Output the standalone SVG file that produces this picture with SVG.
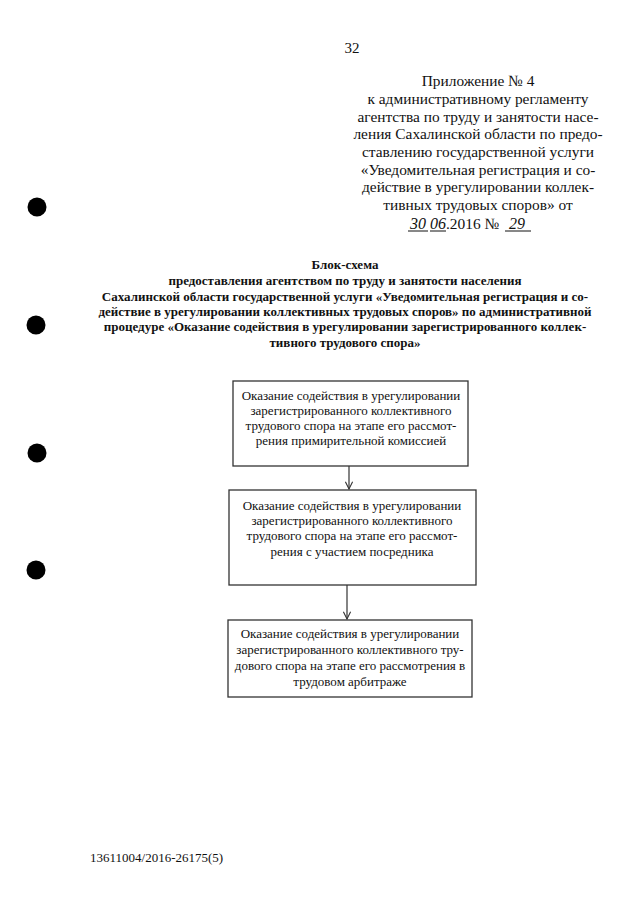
<svg xmlns="http://www.w3.org/2000/svg" width="640" height="905" viewBox="0 0 640 905">
<defs>
<style>
.t{font-family:"Liberation Serif","Times New Roman",serif;fill:#111}
.hdr{font-size:15.4px;text-anchor:middle}
.ttl{font-size:13px;font-weight:bold;text-anchor:middle}
.bx{font-size:13px;text-anchor:middle}
.box{fill:#fff;stroke:#333;stroke-width:1.3}
.hw{font-family:"Liberation Serif",serif;font-style:italic;font-size:16px;fill:#111}
.con{stroke:#333;stroke-width:1.2;fill:none}
</style>
<marker id="ah" viewBox="0 0 10 10" refX="9" refY="5" markerWidth="9" markerHeight="9" orient="auto" markerUnits="userSpaceOnUse">
<path d="M1,1 L9,5 L1,9" fill="none" stroke="#333" stroke-width="1.2"/>
</marker>
</defs>
<rect width="640" height="905" fill="#fff"/>
<g id="punch-holes" fill="#000">
<circle cx="37" cy="207" r="9.5"/>
<circle cx="36" cy="325" r="9.5"/>
<circle cx="37" cy="453" r="9.5"/>
<circle cx="36" cy="570" r="9.5"/>
</g>
<text class="t" x="352" y="53" font-size="15" text-anchor="middle">32</text>
<g id="appendix" class="t hdr">
<text x="478" y="86">Приложение № 4</text>
<text x="478" y="104">к административному регламенту</text>
<text x="478" y="122">агентства по труду и занятости насе-</text>
<text x="478" y="139">ления Сахалинской области по предо-</text>
<text x="478" y="157">ставлению государственной услуги</text>
<text x="478" y="175">«Уведомительная регистрация и со-</text>
<text x="478" y="192">действие в урегулировании коллек-</text>
<text x="478" y="210">тивных трудовых споров» от</text>
</g>
<g id="date">
<text class="hw" x="410" y="229">30</text>
<line x1="408" y1="231" x2="428" y2="231" stroke="#111" stroke-width="1"/>
<line x1="430" y1="231" x2="446" y2="231" stroke="#111" stroke-width="1"/>
<text class="hw" x="430" y="229">06</text>
<text class="t" x="446" y="229" font-size="15.4">.2016 №</text>
<text class="hw" x="509" y="229">29</text>
<line x1="505" y1="231" x2="531" y2="231" stroke="#111" stroke-width="1"/>
</g>
<g id="title" class="t ttl">
<text x="345" y="269">Блок-схема</text>
<text x="345" y="285">предоставления агентством по труду и занятости населения</text>
<text x="345" y="301">Сахалинской области государственной услуги «Уведомительная регистрация и со-</text>
<text x="345" y="316">действие в урегулировании коллективных трудовых споров» по административной</text>
<text x="345" y="331">процедуре «Оказание содействия в урегулировании зарегистрированного коллек-</text>
<text x="345" y="347">тивного трудового спора»</text>
</g>
<g id="connectors">
<line class="con" x1="349" y1="466" x2="349" y2="489" marker-end="url(#ah)"/>
<line class="con" x1="347" y1="585" x2="347" y2="619" marker-end="url(#ah)"/>
</g>
<g id="node1">
<rect class="box" x="233" y="381" width="235" height="85"/>
<g class="t bx">
<text x="351" y="400">Оказание содействия в урегулировании</text>
<text x="351" y="415">зарегистрированного коллективного</text>
<text x="351" y="430">трудового спора на этапе его рассмот-</text>
<text x="351" y="445">рения примирительной комиссией</text>
</g>
</g>
<g id="node2">
<rect class="box" x="229" y="490" width="247" height="95"/>
<g class="t bx">
<text x="352" y="510">Оказание содействия в урегулировании</text>
<text x="352" y="525">зарегистрированного коллективного</text>
<text x="352" y="540">трудового спора на этапе его рассмот-</text>
<text x="352" y="556">рения с участием посредника</text>
</g>
</g>
<g id="node3">
<rect class="box" x="228" y="620" width="244" height="77"/>
<g class="t bx">
<text x="350" y="638">Оказание содействия в урегулировании</text>
<text x="350" y="654">зарегистрированного коллективного тру-</text>
<text x="350" y="670">дового спора на этапе его рассмотрения в</text>
<text x="350" y="686">трудовом арбитраже</text>
</g>
</g>
<text class="t" x="90" y="862" font-size="13">13611004/2016-26175(5)</text>
</svg>
